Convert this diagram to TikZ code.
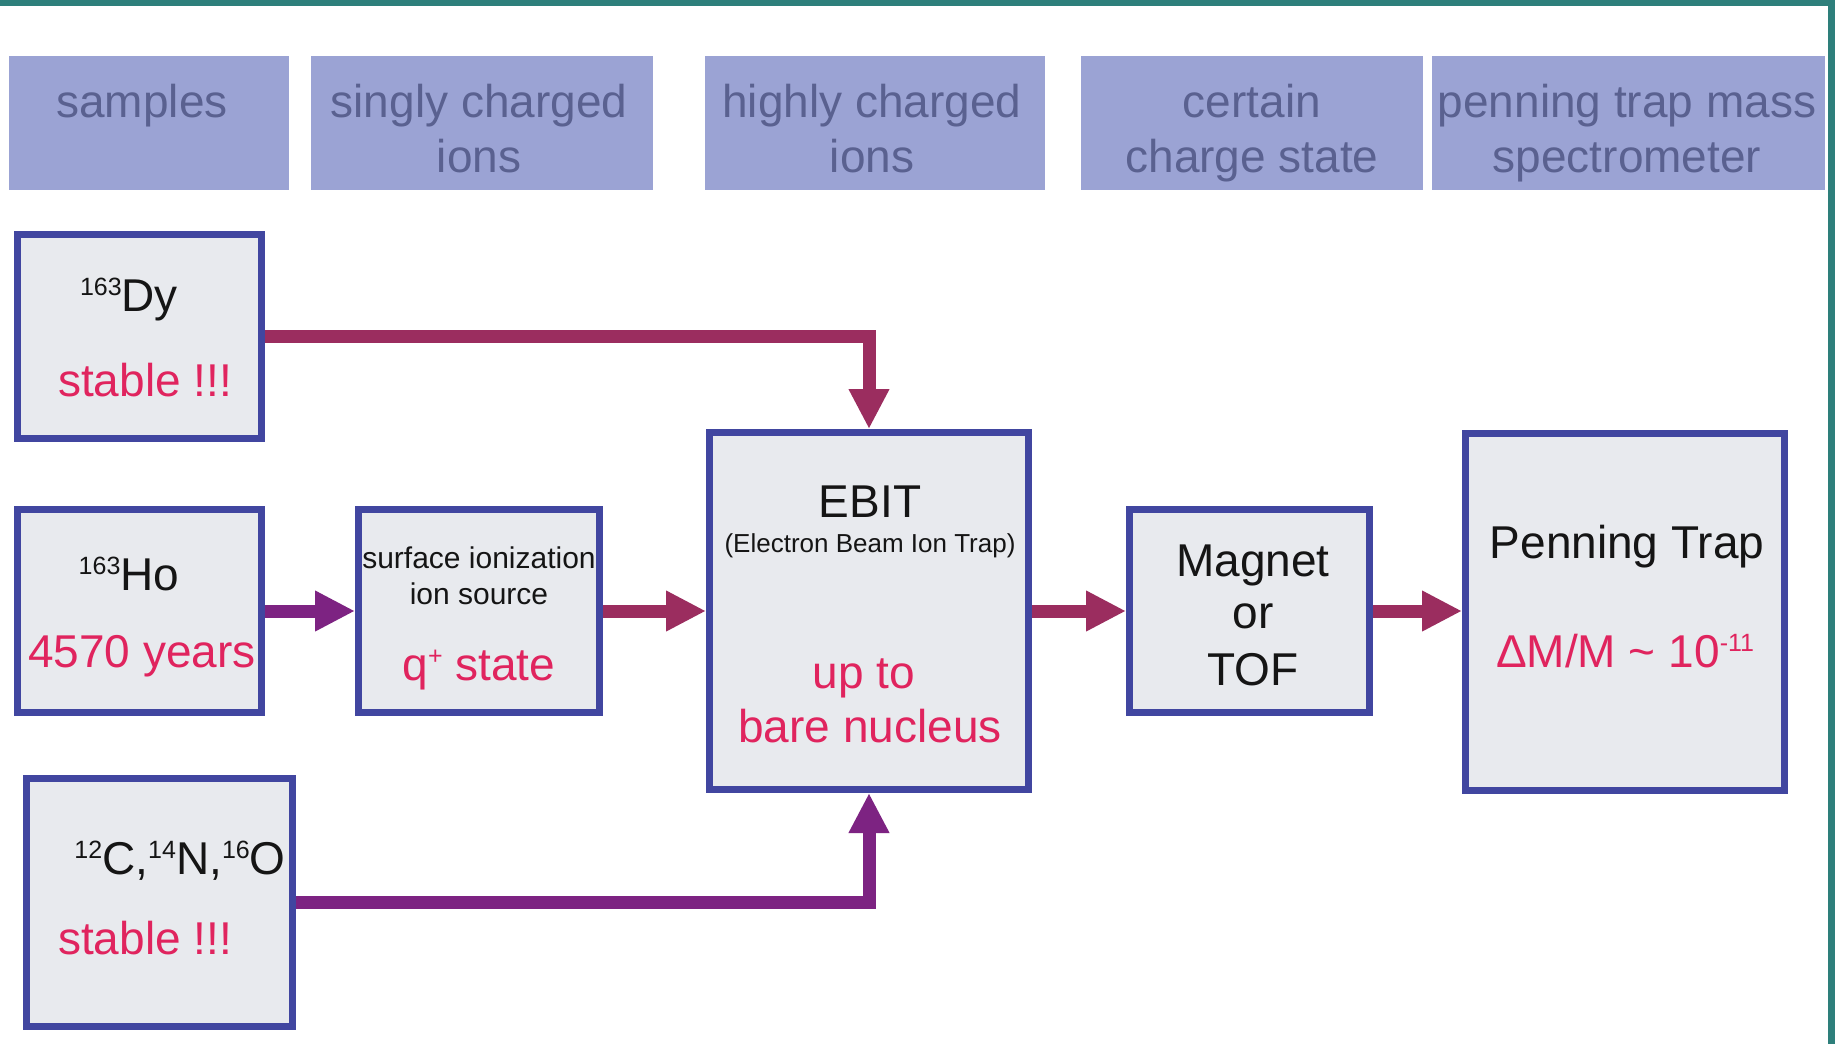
\documentclass[tikz,border=0pt]{standalone}
\usepackage{fontspec}
\setmainfont{Liberation Sans}
\usetikzlibrary{arrows.meta}

\definecolor{frameblue}{HTML}{4146A0}
\definecolor{boxfill}{HTML}{E8EAEE}
\definecolor{headfill}{HTML}{9BA3D4}
\definecolor{headtext}{HTML}{5A6190}
\definecolor{hltext}{HTML}{E0245E}
\definecolor{darktext}{HTML}{151515}
\definecolor{flowred}{HTML}{9B2D5F}
\definecolor{flowpurple}{HTML}{7D2382}
\definecolor{teal}{HTML}{2E7F7B}

\newcommand\fbig{\fontsize{46}{55}\selectfont}
\newcommand\fmid{\fontsize{30}{36}\selectfont}
\newcommand\fsmall{\fontsize{26}{31}\selectfont}
\newcommand\iso[1]{\raisebox{16pt}{\fontsize{25}{25}\selectfont #1}}

\begin{document}
\begin{tikzpicture}[x=1pt,y=-1pt,
  stage/.style={draw=frameblue, line width=7pt, fill=boxfill, inner sep=0pt},
  header/.style={fill=headfill, inner sep=0pt, minimum height=134pt},
  txt/.style={anchor=base, inner sep=0pt, font=\fbig, text=darktext},
  htxt/.style={anchor=base, inner sep=0pt, font=\fbig, text=headtext},
  hot/.style={text=hltext},
  flowA/.style={draw=flowred, line width=13pt, -{Triangle[width=38pt,length=40pt]}},
  flowB/.style={draw=flowpurple, line width=13pt, -{Triangle[width=38pt,length=40pt]}}]

% page and frame
\useasboundingbox (0,0) rectangle (1835,1044);
\fill[white] (0,0) rectangle (1835,1044);
\fill[teal] (0,0) rectangle (1835,6);
\fill[teal] (1828,0) rectangle (1835,1044);

% column headers
\node[header, minimum width=280pt] (hsamples) at (149,123) {};
\node[header, minimum width=342pt] (hsingly)  at (482,123) {};
\node[header, minimum width=340pt] (hhighly)  at (875,123) {};
\node[header, minimum width=342pt] (hcertain) at (1252,123) {};
\node[header, minimum width=393pt] (hpenning) at (1628.5,123) {};

\node[htxt] (ts1)  at (142,117)  {samples};
\node[htxt] (ts2)  at (479,117)  {singly charged};
\node[htxt] (ts3)  at (479,172)  {ions};
\node[htxt] (ts4)  at (872,117)  {highly charged};
\node[htxt] (ts5)  at (872,172)  {ions};
\node[htxt] (ts6)  at (1252,117) {certain};
\node[htxt] (ts7)  at (1252,172) {charge state};
\node[htxt] (ts8)  at (1627,117) {penning trap mass};
\node[htxt] (ts9)  at (1627,172) {spectrometer};

% stages
\node[stage, minimum width=244pt, minimum height=204pt] (dy)   at (139.5,336.5) {};
\node[stage, minimum width=244pt, minimum height=203pt] (ho)   at (139.5,611) {};
\node[stage, minimum width=266pt, minimum height=248pt] (cno)  at (159.5,902.5) {};
\node[stage, minimum width=241pt, minimum height=203pt] (surf) at (479,611) {};
\node[stage, minimum width=319pt, minimum height=357pt] (ebit) at (869,611) {};
\node[stage, minimum width=240pt, minimum height=203pt] (mag)  at (1249.5,611) {};
\node[stage, minimum width=319pt, minimum height=357pt] (pen)  at (1625,612) {};

% stage texts
\node[txt] (dy1) at (129,311) {\iso{163}Dy};
\node[txt,hot] (dy2) at (145,396) {stable !!!};
\node[txt] (ho1) at (129,590) {\iso{163}Ho};
\node[txt,hot] (ho2) at (142,667) {4570 years};
\node[txt] (cno1) at (180,874) {\iso{12}C,\iso{14}N,\iso{16}O};
\node[txt,hot] (cno2) at (145,954) {stable !!!};

\node[txt, font=\fmid] (sf1) at (479,568) {surface ionization};
\node[txt, font=\fmid] (sf2) at (479,604) {ion source};
\node[txt,hot] (sf3) at (479,680) {q\iso{+} state};

\node[txt] (eb1) at (870,517) {EBIT};
\node[txt, font=\fsmall] (eb2) at (870,552) {(Electron Beam Ion Trap)};
\node[txt,hot] (eb3) at (864,688) {up to};
\node[txt,hot] (eb4) at (870,742) {bare nucleus};

\node[txt] (mg1) at (1253,576) {Magnet};
\node[txt] (mg2) at (1253,628) {or};
\node[txt] (mg3) at (1253,685) {TOF};

\node[txt] (pt1) at (1627,558) {Penning Trap};
\node[txt,hot] (pt2) at (1625,667) {ΔM/M \textasciitilde{} 10\iso{-11}};

% beam paths
\draw[flowA] (dy.east) -| (ebit.north);
\draw[flowB] (cno.east) -| (ebit.south);
\draw[flowB] (ho.east) -- (surf.west);
\draw[flowA] (surf.east) -- (surf.east -| ebit.west);
\draw[flowA] (mag.west -| ebit.east) -- (mag.west);
\draw[flowA] (mag.east) -- (mag.east -| pen.west);
\end{tikzpicture}
\end{document}
